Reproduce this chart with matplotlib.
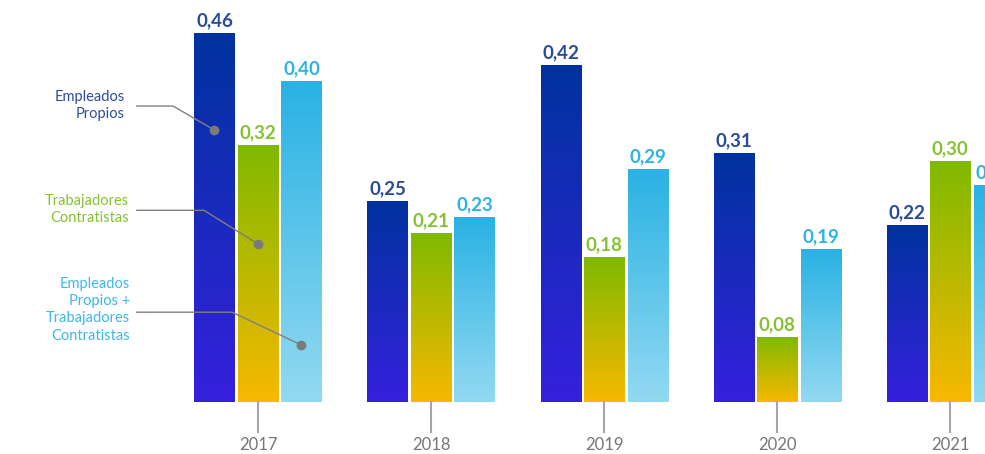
import numpy as np
import matplotlib.pyplot as plt
from matplotlib.colors import LinearSegmentedColormap

years = ['2017', '2018', '2019', '2020', '2021']
propios = [0.46, 0.25, 0.42, 0.31, 0.22]
contratistas = [0.32, 0.21, 0.18, 0.08, 0.30]
propios_contratistas = [0.40, 0.23, 0.29, 0.19, 0.27]

plt.rcParams['font.family'] = ['Lato', 'DejaVu Sans']

# (values, (bottom colour, top colour), label colour)
series = [
    (propios, ('#3520dd', '#00339f'), '#2a4a9a'),
    (contratistas, ('#f8b800', '#7fba00'), '#86c232'),
    (propios_contratistas, ('#93d9f2', '#29b2e3'), '#2cb4e6'),
]

fig = plt.figure(figsize=(9.85, 4.54), dpi=100)
ax = fig.add_axes([0, 0, 1, 1])
ax.axis('off')

width = 40 / 173
step = 43.5 / 173
grad = np.linspace(0, 1, 256).reshape(-1, 1)

for i, (vals, (c0, c1), lc) in enumerate(series):
    cmap = LinearSegmentedColormap.from_list('grad%d' % i, [c0, c1])
    for j, v in enumerate(vals):
        xc = j + (i - 1) * step
        ax.imshow(grad, cmap=cmap, origin='lower', aspect='auto',
                  extent=[xc - width / 2, xc + width / 2, 0, v])
        ax.annotate(f'{v:.2f}'.replace('.', ','), (xc, v), xytext=(0, 3),
                    textcoords='offset points', ha='center', va='bottom',
                    color=lc, fontsize=13.5, fontweight='bold',
                    annotation_clip=False)

# year ticks under the middle bar
for j, y in enumerate(years):
    ax.plot([j, j], [0, -0.037], color='#a6a6a6', lw=1.5, clip_on=False)
    ax.text(j, -0.054, y, ha='center', va='center', fontsize=12, color='#767676')

# legend callouts pointing into the 2017 group
callouts = [
    ('Empleados\nPropios', '#2e4c9c', -0.77, 0.370, -0.491, 0.369, 0, 0.339),
    ('Trabajadores\nContratistas', '#86c232', -0.745, 0.240, -0.312, 0.239, 1, 0.197),
    ('Empleados\nPropios +\nTrabajadores\nContratistas', '#3db8e8', -0.74, 0.115,
     -0.150, 0.112, 2, 0.071),
]
for text, color, tx, ty, ex, ly, k, dy in callouts:
    ax.text(tx, ty, text, ha='right', va='center', fontsize=10.5, color=color,
            linespacing=1.3)
    dx = (k - 1) * step
    ax.plot([-0.70, ex, dx], [ly, ly, dy], color='#808080', lw=1)
    ax.plot(dx, dy, 'o', color='#7a7a7a', ms=6)

ax.set_xlim(-1.491, 4.202)
ax.set_ylim(-0.0648, 0.5012)

fig.savefig('out.png', dpi=100)
